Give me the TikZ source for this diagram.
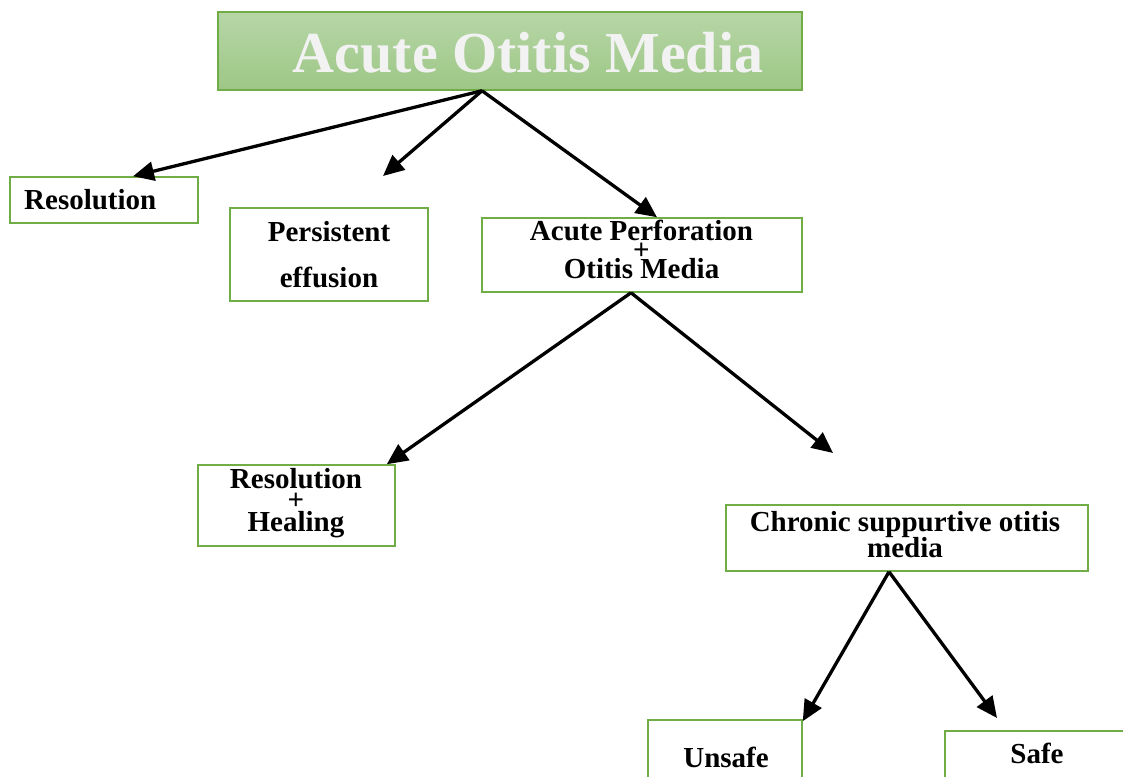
\documentclass[tikz,border=0pt]{standalone}
\usepackage{fontspec}
\setmainfont{Liberation Serif}
\usetikzlibrary{arrows.meta}
\definecolor{boxgreen}{RGB}{112,173,71}
\definecolor{titletop}{RGB}{183,214,167}
\definecolor{titlebot}{RGB}{157,199,134}
\definecolor{titletext}{RGB}{242,242,242}
\begin{document}
\begin{tikzpicture}[x=1pt,y=-1pt,
  box/.style={draw=boxgreen,line width=1.5pt,rectangle,inner sep=0pt},
  lbl/.style={anchor=base,font=\fontsize{29}{29}\selectfont\bfseries,inner sep=0pt},
  arr/.style={line width=3.3pt,-{Triangle[length=21pt,width=19pt]}}]
\useasboundingbox (0,0) rectangle (1123,776);
% boxes
\node[box,minimum width=584pt,minimum height=78pt,top color=titletop,bottom color=titlebot] (title) at (510,51) {};
\node[box,minimum width=188pt,minimum height=46pt] (res) at (104,200) {};
\node[box,minimum width=198pt,minimum height=93pt] (pers) at (329,254.5) {};
\node[box,minimum width=320pt,minimum height=74pt] (perf) at (642,255) {};
\node[box,minimum width=197pt,minimum height=81pt] (heal) at (296.5,505.5) {};
\node[box,minimum width=362pt,minimum height=66pt] (csom) at (907,538) {};
\node[box,minimum width=154pt,minimum height=70pt] (unsafe) at (725,755) {};
\node[box,minimum width=185pt,minimum height=59pt] (safe) at (1037.5,760.5) {};
% texts
\node[anchor=base,inner sep=0pt,text=titletext,font=\fontsize{58}{58}\selectfont\bfseries] (titletxt) at (528,72) {Acute Otitis Media};
\node[lbl,anchor=base west] (restxt) at (24,209) {Resolution};
\node[lbl] (perstxtA) at (329,241) {Persistent};
\node[lbl] (perstxtB) at (329,287) {effusion};
\node[lbl] (perftxtA) at (641.5,240) {Acute Perforation};
\node[lbl] (perftxtB) at (641.5,259) {+};
\node[lbl] (perftxtC) at (641.5,278) {Otitis Media};
\node[lbl] (healtxtA) at (296,488) {Resolution};
\node[lbl] (healtxtB) at (296,509) {+};
\node[lbl] (healtxtC) at (296,531) {Healing};
\node[lbl] (csomtxtA) at (905,531) {Chronic suppurtive otitis};
\node[lbl] (csomtxtB) at (905,557) {media};
\node[lbl] (unsafetxt) at (726,767) {Unsafe};
\node[lbl] (safetxt) at (1037,763) {Safe};
% connector ends
\coordinate (o1) at ([xshift=-28pt]title.south);
\coordinate (p1) at (383,176);
\coordinate (o2) at ([xshift=-11pt]perf.south);
\coordinate (p2) at (833,453);
\coordinate (o3) at ([xshift=-18pt]csom.south);
\coordinate (p3) at (997,718);
% arrows
\draw[arr] (o1) -- ([xshift=29pt]res.north);
\draw[arr] (o1) -- (p1);
\draw[arr] (o1) -- ([xshift=15pt]perf.north);
\draw[arr] (o2) -- ([xshift=-9pt]heal.north east);
\draw[arr] (o2) -- (p2);
\draw[arr] (o3) -- ([yshift=-2pt]unsafe.north east);
\draw[arr] (o3) -- (p3);
\end{tikzpicture}
\end{document}
